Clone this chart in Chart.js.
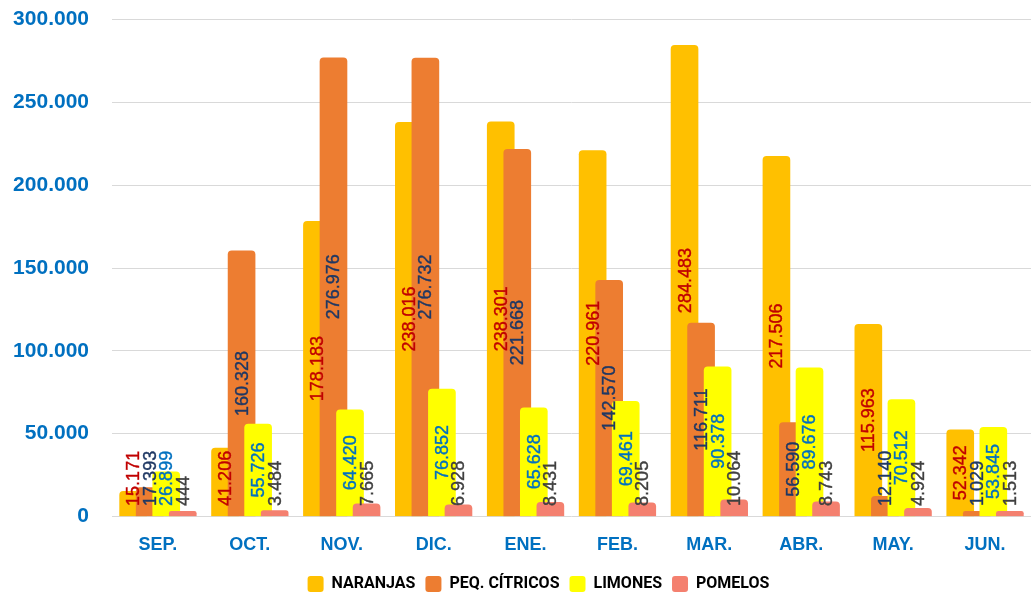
<!DOCTYPE html>
<html>
<head>
<meta charset="utf-8">
<script src="https://cdn.jsdelivr.net/npm/chart.js@4"></script>
<style>
  html, body { margin: 0; padding: 0; background: #fff; overflow: hidden; }
  #wrap { width: 1033px; height: 608px; margin-top: -16px; }
</style>
</head>
<body>
<div id="wrap"><canvas id="grafico"></canvas></div>
<script>
// Meses de la campaña
const meses = ["SEP.", "OCT.", "NOV.", "DIC.", "ENE.", "FEB.", "MAR.", "ABR.", "MAY.", "JUN."];

// Valores por producto
const naranjas      = [15171, 41206, 178183, 238016, 238301, 220961, 284483, 217506, 115963, 52342];
const pequeCitricos = [17393, 160328, 276976, 276732, 221668, 142570, 116711, 56590, 12140, 1029];
const limones       = [26899, 55726, 64420, 76852, 65628, 69461, 90378, 89676, 70512, 53845];
const pomelos       = [444, 3484, 7665, 6928, 8431, 8205, 10064, 8743, 4924, 1513];

const series = ["NARANJAS", "PEQ. CÍTRICOS", "LIMONES", "POMELOS"];
const coloresBarra = ["#FFC000", "#ED7D31", "#FFFF00", "#F4806F"];
const coloresTexto = ["#C00000", "#1F3864", "#0070C0", "#404040"];

// desplazamiento de cada serie dentro del mes (barras solapadas)
const desplaz = [-0.27, -0.09, 0.09, 0.27];

function puntos(valores, k) {
    return valores.map((v, i) => ({ x: i + desplaz[k], y: v }));
}

const datos = [naranjas, pequeCitricos, limones, pomelos];

// etiquetas giradas en el centro de cada barra
const etiquetas = {
    id: 'etiquetas',
    afterDatasetsDraw(chart) {
        const ctx = chart.ctx;
        ctx.save();
        ctx.font = "18px 'Liberation Sans', Arial, sans-serif";
        ctx.textAlign = 'center';
        ctx.textBaseline = 'middle';
        ctx.lineWidth = 0.4;
        chart.data.datasets.forEach((ds, k) => {
            const meta = chart.getDatasetMeta(k);
            meta.data.forEach((bar, i) => {
                const texto = datos[k][i].toLocaleString('de-DE');
                const w = ctx.measureText(texto).width;
                let cy = (bar.y + bar.base) / 2;
                cy = Math.min(cy, bar.base - 10 - w / 2);
                ctx.save();
                ctx.translate(bar.x, cy);
                ctx.rotate(-Math.PI / 2);
                ctx.fillStyle = coloresTexto[k];
                ctx.strokeStyle = coloresTexto[k];
                ctx.fillText(texto, 0, 1);
                ctx.strokeText(texto, 0, 1);
                ctx.restore();
            });
        });
        ctx.restore();
    }
};

// la leyenda va algo a la derecha, como en el original
const moverLeyenda = {
    id: 'moverLeyenda',
    afterLayout(chart) {
        chart.legend.left += 23;
        chart.legend.right += 23;
    }
};

const grafico = new Chart(document.getElementById('grafico'), {
    type: 'bar',
    data: {
        datasets: series.map((nombre, k) => ({
            label: nombre,
            data: puntos(datos[k], k),
            backgroundColor: coloresBarra[k],
            borderRadius: 4,
            barThickness: 27,
            minBarLength: 5,
            grouped: false,
            order: 3 - k
        }))
    },
    options: {
        responsive: true,
        maintainAspectRatio: false,
        animation: false,
        layout: { padding: { top: 0, right: 2, left: 0, bottom: -10 } },
        plugins: {
            tooltip: { enabled: false },
            legend: {
                position: 'bottom',
                reverse: true,
                labels: {
                    boxWidth: 16,
                    boxHeight: 16,
                    useBorderRadius: true,
                    borderRadius: 3,
                    padding: 10,
                    color: '#000',
                    font: { family: "Roboto, 'Liberation Sans', sans-serif", size: 16, weight: 'bold' }
                }
            }
        },
        scales: {
            x: {
                type: 'linear',
                offset: false,
                min: -0.5,
                max: 9.5,
                afterBuildTicks: (s) => { s.ticks = meses.map((m, i) => ({ value: i })); },
                grid: { display: false },
                border: { display: false },
                ticks: {
                    autoSkip: false,
                    maxRotation: 0,
                    padding: 10,
                    color: '#0070C0',
                    font: { family: "'Liberation Sans', Arial, sans-serif", size: 18, weight: 'bold' },
                    callback: (v) => meses[v]
                }
            },
            y: {
                min: 0,
                max: 300000,
                afterFit: (s) => { s.width = 112; },
                grid: { color: '#D9D9D9', drawTicks: false },
                border: { display: false },
                ticks: {
                    stepSize: 50000,
                    padding: 23,
                    color: '#0070C0',
                    font: { family: "'Liberation Sans', Arial, sans-serif", size: 21, weight: 'bold' },
                    callback: (v) => v.toLocaleString('de-DE')
                }
            }
        }
    },
    plugins: [etiquetas, moverLeyenda]
});
</script>
</body>
</html>
